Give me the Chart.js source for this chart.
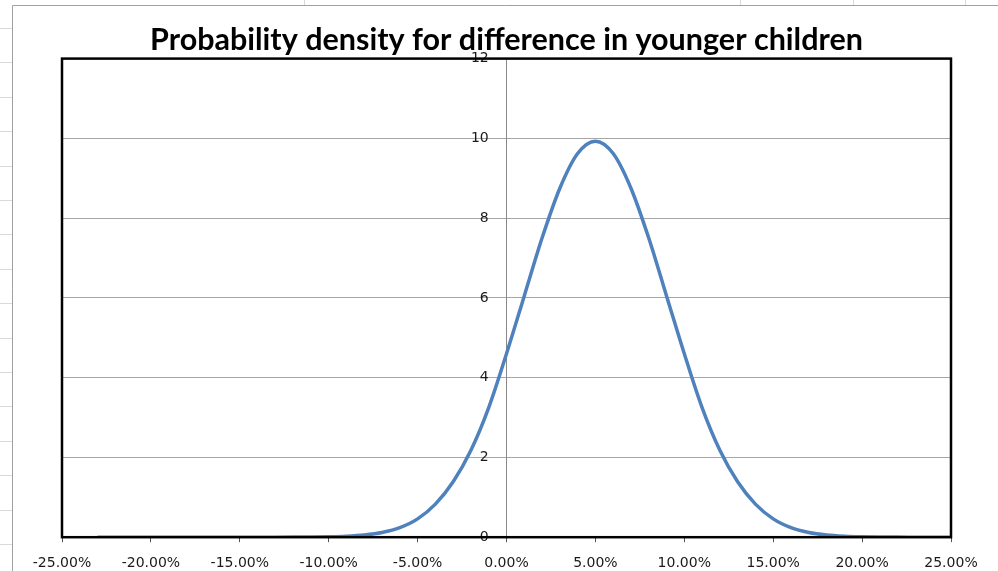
<!DOCTYPE html>
<html>
<head>
<meta charset="utf-8">
<style>
  html, body { margin: 0; padding: 0; background: #fff; }
  #wrap { width: 998px; height: 571px; position: relative; }
</style>
<script src="https://cdn.jsdelivr.net/npm/chart.js@4.4.1/dist/chart.umd.min.js"></script>
</head>
<body>
<div id="wrap"><canvas id="myChart" width="998" height="571"></canvas></div>
<script>
const lineColor = '#4f81bd'
const gridColor = '#a6a6a6'
const textColor = '#1a1a1a'

const chartTitle = 'Probability density for difference in younger children'

// difference (%) and density
const diffPct = [-23, -20, -17, -15, -13, -12, -11, -10, -9, -8, -7, -6, -5, -4, -3, -2, -1, 0,
  1, 2, 3, 4, 5, 6, 7, 8, 9, 10, 11, 12, 13, 14, 15, 16, 17, 18, 19, 20, 21, 22, 23, 25]
const density = [0, 0, 0, 0, 0.001, 0.002, 0.005, 0.012, 0.027, 0.058, 0.12, 0.24, 0.46, 0.83, 1.39, 2.18, 3.25, 4.6,
  6.05, 7.5, 8.75, 9.62, 9.93, 9.62, 8.75, 7.5, 6.05, 4.6, 3.25, 2.18, 1.39, 0.83, 0.46, 0.24, 0.12, 0.058, 0.027, 0.012, 0.005, 0.002, 0.001, 0]

const xTicks = [-25, -20, -15, -10, -5, 0, 5, 10, 15, 20, 25]
const yTicks = [0, 2, 4, 6, 8, 10, 12]

var points = []
for (var i = 0; i < diffPct.length; i++) {
  points.push({ x: diffPct[i], y: density[i] })
}

// spreadsheet cells behind the chart + black frame round the plot
const sheetPlugin = {
  id: 'sheet',
  beforeDraw(chart) {
    const c = chart.ctx
    c.save()
    c.fillStyle = '#fff'
    c.fillRect(0, 0, chart.width, chart.height)
    c.strokeStyle = '#dadada'
    c.lineWidth = 1
    for (var y = 28; y < chart.height; y += 34.4) {
      c.beginPath(); c.moveTo(0, Math.round(y) + 0.5); c.lineTo(12, Math.round(y) + 0.5); c.stroke()
    }
    var cols = [304, 740, 853, 965]
    for (var j = 0; j < cols.length; j++) {
      c.beginPath(); c.moveTo(cols[j] + 0.5, 0); c.lineTo(cols[j] + 0.5, 5); c.stroke()
    }
    c.strokeStyle = '#a0a0a0'
    c.beginPath(); c.moveTo(12.5, chart.height); c.lineTo(12.5, 5.5); c.lineTo(chart.width, 5.5); c.stroke()
    c.restore()
  },
  afterDraw(chart) {
    const a = chart.chartArea
    const c = chart.ctx
    c.save()
    c.strokeStyle = '#000'
    c.lineWidth = 2.5
    c.strokeRect(a.left, a.top, a.right - a.left, a.bottom - a.top)
    c.restore()
  }
}

var ctx = document.getElementById('myChart')
var lineChart = new Chart(ctx, {
  type: 'line',
  data: {
    datasets: [{
      data: points,
      borderColor: lineColor,
      borderWidth: 3.5,
      pointRadius: 0,
      fill: false,
      tension: 0.4,
      cubicInterpolationMode: 'monotone'
    }]
  },
  options: {
    responsive: false,
    animation: false,
    layout: { padding: { left: 62, right: 47, top: 0, bottom: -14 } },
    plugins: {
      legend: { display: false },
      tooltip: { enabled: false },
      title: {
        display: true,
        text: chartTitle,
        color: '#000',
        font: { family: 'Lato', size: 30.5, weight: 'bold' },
        padding: { top: 22, bottom: 0 }
      }
    },
    scales: {
      x: {
        type: 'linear',
        min: -25,
        max: 25,
        afterBuildTicks: function (axis) { axis.ticks = xTicks.map(v => ({ value: v })) },
        ticks: {
          color: textColor,
          font: { family: 'DejaVu Sans', size: 14 },
          padding: 13,
          maxRotation: 0,
          callback: v => v.toFixed(2) + '%'
        },
        grid: { drawOnChartArea: false, drawTicks: true, tickLength: 5, color: '#555' },
        border: { color: '#000', width: 2 }
      },
      y: {
        position: { x: 0 },
        min: 0,
        max: 12,
        afterBuildTicks: function (axis) { axis.ticks = yTicks.map(v => ({ value: v })) },
        ticks: {
          color: textColor,
          font: { family: 'DejaVu Sans', size: 14 },
          padding: 14,
          // labels sit left of the centred axis; trailing spaces keep them off the line
          callback: v => v + '    '
        },
        grid: { color: gridColor, lineWidth: 1, drawTicks: true, tickLength: 4 },
        border: { color: '#888', width: 1 }
      }
    }
  },
  plugins: [sheetPlugin]
})
</script>
</body>
</html>
